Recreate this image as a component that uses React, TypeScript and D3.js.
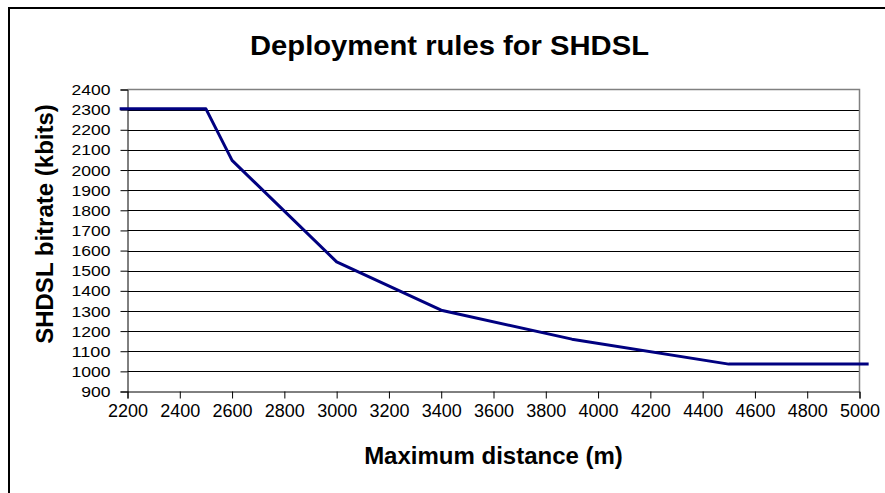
import { useEffect, useRef } from "react"
import * as d3 from "d3"

// measured points (m -> kbit/s); first/last run past the axis like in the original
const distances = [2170, 2500, 2600, 3000, 3400, 3900, 4500, 5035]
const bitrates = [2304, 2304, 2048, 1544, 1304, 1160, 1036, 1036]

const xTicks = d3.range(2200, 5001, 200)
const yTicks = d3.range(900, 2401, 100)

const titleText = "Deployment rules for SHDSL"
const xTitle = "Maximum distance (m)"
const yTitle = "SHDSL bitrate (kbits)"

export default function App() {
    const ref = useRef<SVGSVGElement>(null)
    const width = 885, height = 493
    const lineColor = "#000080"

    useEffect(() => {
        const svg = d3.select(ref.current)
        svg.selectAll("*").remove()

        const left = 127.5, right = 859.5, top = 89.5, bottom = 391.5

        const xScale = d3.scaleLinear().domain([2200, 5000]).range([left, right])
        const yScale = d3.scaleLinear().domain([900, 2400]).range([bottom, top])

        // outer chart frame (right/bottom run off the picture)
        svg.append("rect")
            .attr("x", 9).attr("y", 8)
            .attr("width", width + 20).attr("height", height + 20)
            .attr("fill", "white")
            .attr("stroke", "black")
            .attr("stroke-width", 2)

        // gridlines
        svg.append("g")
            .selectAll("line")
            .data(yTicks.filter(d => d > 900 && d < 2400))
            .join("line")
            .attr("x1", left).attr("x2", right)
            .attr("y1", d => Math.round(yScale(d)) + 0.5)
            .attr("y2", d => Math.round(yScale(d)) + 0.5)
            .attr("stroke", "black")
            .attr("stroke-width", 1)

        // plot border (grey top/right)
        svg.append("path")
            .attr("d", `M${left},${top}H${right}V${bottom}`)
            .attr("fill", "none")
            .attr("stroke", "#808080")
            .attr("stroke-width", 1.5)

        const xAxis = d3.axisBottom(xScale)
            .tickValues(xTicks)
            .tickSize(7)
            .tickPadding(6)
            .tickFormat(d3.format("d"))

        svg.append("g")
            .attr("transform", `translate(0, ${bottom})`)
            .call(xAxis)
            .call(g => g.select(".domain").attr("stroke", "black"))
            .call(g => g.selectAll(".tick line").attr("stroke", "black"))
            .selectAll("text")
            .attr("fill", "black")
            .style("font-family", "'Liberation Sans', Arial, sans-serif")
            .style("font-size", "18px")

        const yAxis = d3.axisLeft(yScale)
            .tickValues(yTicks)
            .tickSize(7)
            .tickPadding(10)
            .tickFormat(d3.format("d"))

        svg.append("g")
            .attr("transform", `translate(${left}, 0)`)
            .call(yAxis)
            .call(g => g.select(".domain").attr("stroke", "black"))
            .call(g => g.selectAll(".tick line").attr("stroke", "black"))
            .selectAll("text")
            .attr("fill", "black")
            .attr("dy", "0.36em")
            .attr("textLength", (d: any) => String(d).length * 9.75)
            .attr("lengthAdjust", "spacingAndGlyphs")
            .style("font-family", "'Liberation Sans', Arial, sans-serif")
            .style("font-size", "14px")

        const line = d3.line<number>()
            .x((d, i) => xScale(distances[i]))
            .y(d => yScale(d))

        svg.append("path")
            .datum(bitrates)
            .attr("fill", "none")
            .attr("stroke", lineColor)
            .attr("stroke-width", 3)
            .attr("stroke-linejoin", "round")
            .attr("d", line)

        svg.append("text")
            .attr("x", 449.5).attr("y", 55)
            .attr("text-anchor", "middle")
            .attr("textLength", 399)
            .attr("lengthAdjust", "spacingAndGlyphs")
            .style("font-family", "'Liberation Sans', Arial, sans-serif")
            .style("font-weight", "bold")
            .style("font-size", "27px")
            .text(titleText)

        svg.append("text")
            .attr("x", (left + right) / 2).attr("y", 464)
            .attr("text-anchor", "middle")
            .style("font-family", "'Liberation Sans', Arial, sans-serif")
            .style("font-weight", "bold")
            .style("font-size", "24px")
            .text(xTitle)

        svg.append("text")
            .attr("transform", `translate(53, 224) rotate(-90)`)
            .attr("text-anchor", "middle")
            .style("font-family", "'Liberation Sans', Arial, sans-serif")
            .style("font-weight", "bold")
            .style("font-size", "24px")
            .text(yTitle)
    }, [])

    return (
        <svg ref={ref} width={width} height={height}
            style={{ position: "absolute", left: 0, top: 0, background: "white" }} />
    )
}
